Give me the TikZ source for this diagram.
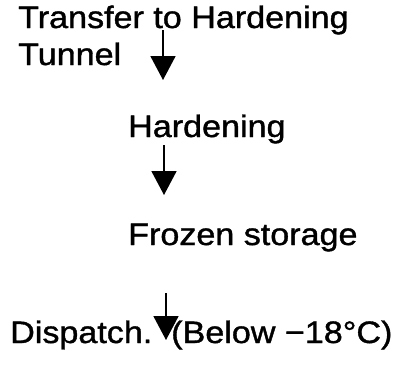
\documentclass[tikz,border=0pt]{standalone}
\usepackage{fontspec}
\setmainfont[FakeStretch=1.1, FakeBold=1.2]{Liberation Sans}
\usetikzlibrary{arrows.meta}
\begin{document}
\begin{tikzpicture}
[x=1pt, y=-1pt, font=\fontsize{31}{37}\selectfont]

\tikzstyle{stage}=[anchor=base west, inner sep=0pt]
\tikzstyle{flow}=[line width=1.8pt, -{Triangle[width=25pt, length=24pt]}]
\useasboundingbox (0,0) rectangle (405,365);

\node[stage]	(S1)	at (18,28)	{Transfer to Hardening};
\node[stage]	(S1b)	at (18,65)	{Tunnel};
\node[stage]	(S2)	at (128,137)	{Hardening};
\node[stage]	(S3)	at (128,245)	{Frozen storage};
\node[stage]	(S4)	at (10,343)	{Dispatch.\ \ (Below −18°C)};

\coordinate	(A1s)	at (163,30);
\coordinate	(A1e)	at (163,80);
\coordinate	(A2s)	at (164,145);
\coordinate	(A2e)	at (164,195);
\coordinate	(A3s)	at (166,293);
\coordinate	(A3e)	at (166,340);

\draw [flow] (A1s)--(A1e);
\draw [flow] (A2s)--(A2e);
\draw [flow] (A3s)--(A3e);
\end{tikzpicture}
\end{document}
